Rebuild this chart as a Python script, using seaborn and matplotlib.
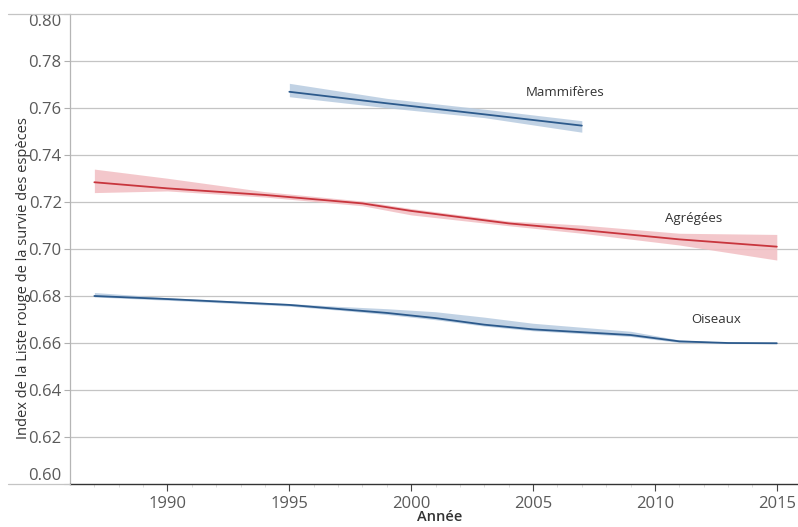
import matplotlib
matplotlib.use("Agg")
import matplotlib.pyplot as plt
from matplotlib.lines import Line2D
import seaborn as sns
import pandas as pd

# Indice de la Liste rouge : valeur centrale et intervalle
years_agregees = [1987, 1990, 1994, 1998, 2000, 2004, 2007, 2011, 2015]
agregees = [0.7284, 0.7258, 0.7230, 0.7194, 0.7162, 0.7109, 0.7081, 0.7041, 0.7010]
agregees_low = [0.7240, 0.7247, 0.7221, 0.7184, 0.7145, 0.7099, 0.7067, 0.7017, 0.6953]
agregees_high = [0.7340, 0.7301, 0.7244, 0.7204, 0.7172, 0.7119, 0.7102, 0.7067, 0.7062]

years_oiseaux = [1987, 1990, 1995, 1997, 1999, 2001, 2003, 2005, 2009, 2011, 2013, 2015]
oiseaux = [0.6800, 0.6787, 0.6762, 0.6745, 0.6728, 0.6706, 0.6678, 0.6658, 0.6634, 0.6607, 0.6600, 0.6599]
oiseaux_low = [0.6796, 0.6782, 0.6757, 0.6740, 0.6721, 0.6699, 0.6672, 0.6652, 0.6628, 0.6602, 0.6598, 0.6597]
oiseaux_high = [0.6815, 0.6793, 0.6768, 0.6756, 0.6746, 0.6733, 0.6710, 0.6684, 0.6650, 0.6613, 0.6603, 0.6601]

years_mammiferes = [1995, 1999, 2003, 2007]
mammiferes = [0.7669, 0.7620, 0.7573, 0.7525]
mammiferes_low = [0.7648, 0.7601, 0.7559, 0.7497]
mammiferes_high = [0.7705, 0.7641, 0.7595, 0.7546]

y_ticks = [0.60, 0.62, 0.64, 0.66, 0.68, 0.70, 0.72, 0.74, 0.76, 0.78, 0.80]
x_ticks = [1990, 1995, 2000, 2005, 2010, 2015]

RED, RED_BAND = "#c8353d", "#f2bec2"
BLUE, BLUE_BAND = "#2c5a8c", "#b7cbe0"

sns.set_theme(style="white")
plt.rcParams["font.family"] = ["Open Sans", "DejaVu Sans"]

fig = plt.figure(figsize=(7.98, 5.27), dpi=100)
ax = fig.add_axes([70 / 798, 1 - 484 / 527, 1 - 70 / 798, (484 - 14) / 527])

series = [
    ("Agrégées", years_agregees, agregees, agregees_low, agregees_high, RED, RED_BAND),
    ("Oiseaux", years_oiseaux, oiseaux, oiseaux_low, oiseaux_high, BLUE, BLUE_BAND),
    ("Mammifères", years_mammiferes, mammiferes, mammiferes_low, mammiferes_high, BLUE, BLUE_BAND),
]

for name, yrs, mid, lo, hi, col, band in series:
    ax.fill_between(yrs, lo, hi, color=band, lw=0, alpha=0.85, zorder=2)
    df = pd.DataFrame({"Année": yrs, "Index": mid})
    sns.lineplot(data=df, x="Année", y="Index", color=col, lw=1.3, ax=ax, zorder=3)

# Étiquettes des séries
label_pos = {"Mammifères": (2006.3, 0.7664), "Agrégées": (2011.6, 0.7128), "Oiseaux": (2012.5, 0.6698)}
for name, (lx, ly) in label_pos.items():
    ax.text(lx, ly, name, ha="center", va="center", fontsize=9.5, color="#333333")

ax.set_xlim(1986.0, 2015.87)
ax.set_ylim(0.60, 0.80)

# Grille horizontale
for t in y_ticks[1:-1]:
    ax.axhline(t, color="#c4c4c4", lw=0.9, zorder=1)

ax.set_yticks(y_ticks)
ax.set_yticklabels([f"{t:.2f}" for t in y_ticks])
ax.set_xticks(x_ticks)
ax.set_xticks(range(1987, 2016), minor=True)
ax.tick_params(axis="y", which="major", direction="out", length=4, width=0.8,
               color="#b0b0b0", labelsize=12, labelcolor="#5a5a5a", pad=2, left=True)
ax.tick_params(axis="x", which="major", direction="out", length=5, width=0.8,
               color="#444444", labelsize=12, labelcolor="#5a5a5a", pad=4, bottom=True)
ax.tick_params(axis="x", which="minor", direction="out", length=2.5, width=0.6,
               color="#d8d8d8", bottom=True)

# Premier et dernier libellés décalés vers l'intérieur
ylabels = ax.get_yticklabels()
ylabels[0].set_va("bottom")
ylabels[-1].set_va("top")

for side in ["top", "right"]:
    ax.spines[side].set_visible(False)
ax.spines["left"].set_color("#b5b5b5")
ax.spines["left"].set_linewidth(0.9)
ax.spines["bottom"].set_color("#333333")
ax.spines["bottom"].set_linewidth(1.0)

ax.set_xlabel("Année", fontsize=10.5, color="#333333", fontweight="semibold")
ax.set_ylabel("Index de la Liste rouge de la survie des espèces", fontsize=10.5,
              color="#333333")
ax.xaxis.set_label_coords((440 - 70) / 728, (484 - 510) / 470)
ax.yaxis.set_label_coords(-(70 - 24) / 728, (484 - 278) / 470)
ax.yaxis.label.set_va("center")
ax.xaxis.label.set_va("top")

# Filets horizontaux en haut et en bas du graphique
fig.add_artist(Line2D([8 / 798, 1], [1 - 14 / 527, 1 - 14 / 527], color="#c4c4c4", lw=0.9))
fig.add_artist(Line2D([8 / 798, 70 / 798], [1 - 484 / 527, 1 - 484 / 527], color="#c4c4c4", lw=0.9))

fig.savefig("out.png", dpi=100, facecolor="white")
